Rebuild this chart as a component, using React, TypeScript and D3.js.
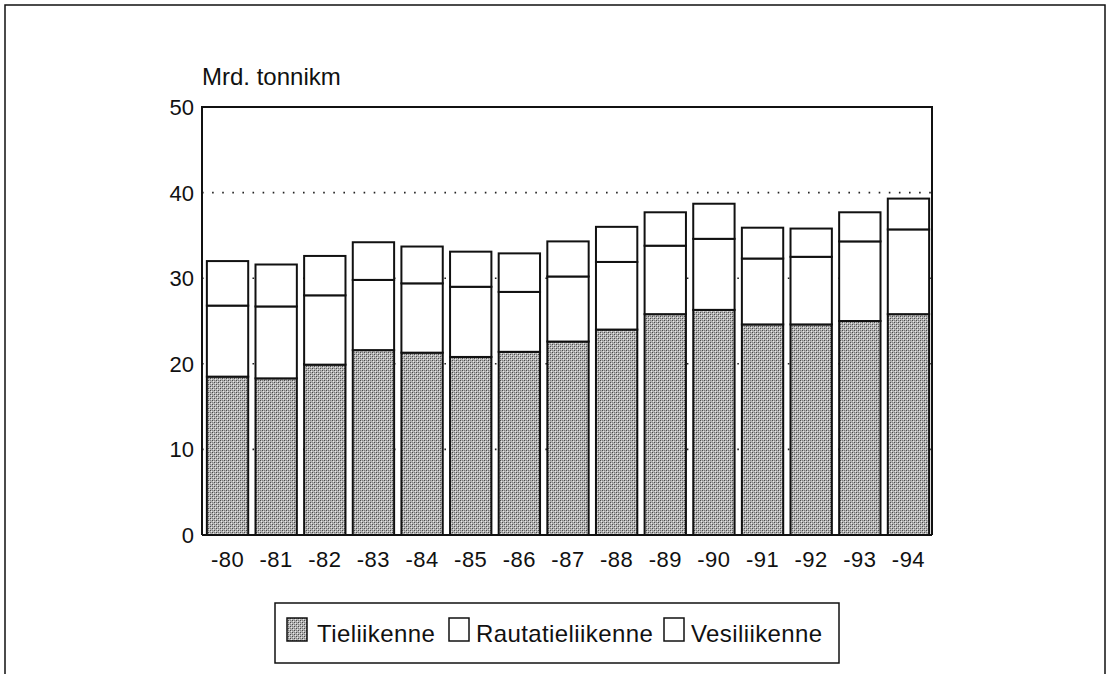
import React from 'react';
import * as d3 from 'd3';

const years = ['-80', '-81', '-82', '-83', '-84', '-85', '-86', '-87', '-88', '-89', '-90', '-91', '-92', '-93', '-94'];
const tieliikenne = [18.5, 18.3, 19.9, 21.6, 21.3, 20.8, 21.4, 22.6, 24.0, 25.8, 26.3, 24.6, 24.6, 25.0, 25.8];
const rautatieliikenne = [8.3, 8.4, 8.1, 8.2, 8.1, 8.2, 7.0, 7.6, 7.9, 8.0, 8.3, 7.7, 7.9, 9.3, 9.9];
const vesiliikenne = [5.2, 4.9, 4.6, 4.4, 4.3, 4.1, 4.5, 4.1, 4.1, 3.9, 4.1, 3.6, 3.3, 3.4, 3.6];
const seriesNames = ['Tieliikenne', 'Rautatieliikenne', 'Vesiliikenne'];
const yTicks = [0, 10, 20, 30, 40, 50];

const FONT = 'Liberation Sans, Arial, Helvetica, sans-serif';

const App = () => {
  const margin = { top: 107, left: 202, right: 180, bottom: 139 };
  const W = 1112;
  const H = 674;
  const plotRight = W - margin.right;
  const plotBottom = H - margin.bottom;

  const rows = years.map((y, i) => ({
    year: y,
    Tieliikenne: tieliikenne[i],
    Rautatieliikenne: rautatieliikenne[i],
    Vesiliikenne: vesiliikenne[i],
  }));
  const stacked = d3.stack().keys(seriesNames)(rows as any);

  const x = d3.scaleBand().domain(years).range([margin.left, plotRight + 2]).paddingInner(0.15).paddingOuter(0.1);
  const y = d3.scaleLinear().domain([0, 50]).range([plotBottom, margin.top]);

  const fillFor = (key: string) => (key === 'Tieliikenne' ? 'url(#dither)' : '#fff');

  // legend swatch / label x positions
  const legendItems = [
    { name: 'Tieliikenne', sx: 287, tx: 317 },
    { name: 'Rautatieliikenne', sx: 449, tx: 476 },
    { name: 'Vesiliikenne', sx: 664, tx: 691 },
  ];

  return (
    <svg width={W} height={H} style={{ position: 'absolute', left: 0, top: 0, background: '#fff' }} fontFamily={FONT}>
      <defs>
        <pattern id="dither" width="4" height="4" patternUnits="userSpaceOnUse">
          <rect width="4" height="4" fill="#b4b4b4" />
          <rect x="0" y="0" width="1" height="1" fill="#4a4a4a" />
          <rect x="2" y="2" width="1" height="1" fill="#4a4a4a" />
          <rect x="2" y="0" width="1" height="1" fill="#808080" />
          <rect x="0" y="2" width="1" height="1" fill="#808080" />
          <rect x="1" y="1" width="1" height="1" fill="#e8e8e8" />
          <rect x="3" y="3" width="1" height="1" fill="#e8e8e8" />
        </pattern>
      </defs>

      {/* outer frame */}
      <path d={`M5,${H + 5} V5 H1105 V${H + 5}`} fill="none" stroke="#111" strokeWidth={1.5} />

      {/* dotted gridlines */}
      {yTicks.filter(t => t > 0 && t < 50).map(t => (
        <line key={t} x1={margin.left} x2={plotRight} y1={y(t)} y2={y(t)} stroke="#222" strokeWidth={1.6} strokeDasharray="1.6 8.5" />
      ))}

      {/* bars */}
      {stacked.map(layer => (
        <g key={layer.key}>
          {layer.map((d, i) => (
            <rect
              key={i}
              x={x(years[i])}
              y={y(d[1])}
              width={x.bandwidth()}
              height={y(d[0]) - y(d[1])}
              fill={fillFor(layer.key)}
              stroke="#111"
              strokeWidth={2}
            />
          ))}
        </g>
      ))}

      {/* plot frame */}
      <path d={`M${margin.left},${plotBottom} V${margin.top} H${plotRight} V${plotBottom}`} fill="none" stroke="#111" strokeWidth={2} />
      <line x1={margin.left} x2={plotRight} y1={plotBottom} y2={plotBottom} stroke="#111" strokeWidth={2} />

      {/* y axis labels */}
      {yTicks.map(t => (
        <text key={t} x={194} y={y(t)} dy="0.36em" textAnchor="end" fontSize={22} fill="#111">
          {t}
        </text>
      ))}
      <text x={202} y={85} fontSize={24} fill="#111">Mrd. tonnikm</text>

      {/* x axis labels */}
      {years.map(yr => (
        <text key={yr} x={(x(yr) as number) + x.bandwidth() / 2} y={567} textAnchor="middle" fontSize={22} letterSpacing={0.5} fill="#111">
          {yr}
        </text>
      ))}

      {/* legend */}
      <rect x={275} y={603} width={564} height={60} fill="#fff" stroke="#111" strokeWidth={1.5} />
      {legendItems.map(it => (
        <g key={it.name}>
          <rect x={it.sx} y={618} width={20} height={23} fill={fillFor(it.name)} stroke="#111" strokeWidth={1.5} />
          <text x={it.tx} y={642} fontSize={24} letterSpacing={0.4} fill="#111">{it.name}</text>
        </g>
      ))}
    </svg>
  );
};

export default App;
